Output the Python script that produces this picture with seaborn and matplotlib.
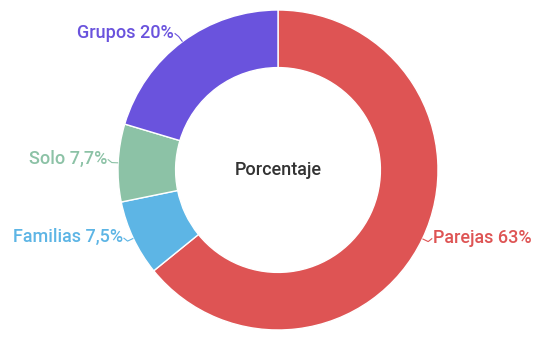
import numpy as np
import matplotlib
matplotlib.use("Agg")
import matplotlib.pyplot as plt
import seaborn as sns

labels = ["Parejas", "Familias", "Solo", "Grupos"]
values = [63, 7.5, 7.7, 20]
value_text = ["63%", "7,5%", "7,7%", "20%"]
colors = ["#DE5454", "#5DB5E5", "#8CC2A6", "#6A53DD"]
center_title = "Porcentaje"

sns.set_theme(style="white")
plt.rcParams["font.family"] = ["Roboto", "DejaVu Sans"]

W, H = 545, 343
R = 160.0
cx, cy = 278, 170
fig = plt.figure(figsize=(W / 100, H / 100), dpi=100)
ax = fig.add_axes([0, 0, 1, 1])

wedges, _ = ax.pie(values, colors=colors, startangle=90, counterclock=False,
                   radius=1.0, wedgeprops=dict(width=0.36, edgecolor="white", linewidth=1.0))
ax.set_xlim(-cx / R, (W - cx) / R)
ax.set_ylim(-(H - cy) / R, cy / R)
ax.set_aspect("equal")
ax.axis("off")

for w, lab, vt, col in zip(wedges, labels, value_text, colors):
    ang = np.deg2rad((w.theta1 + w.theta2) / 2)
    x0, y0 = np.cos(ang), np.sin(ang)
    x1, y1 = 1.04 * x0, 1.04 * y0
    side = 1 if x0 > 0 else -1
    x2 = x1 + side * 0.025
    y2 = y1 + 0.02
    ax.plot([x0, x1, x2], [y0, y1, y2], color=col, lw=0.8, solid_capstyle="butt")
    ax.text(x2 + side * 0.005, y2 + 0.005, f"{lab} {vt}", color=col, fontsize=13,
            fontweight="medium", ha="left" if side > 0 else "right", va="center")

ax.text(0, 0, center_title, ha="center", va="center", fontsize=13,
        fontweight="medium", color="#333333")

fig.savefig("out.png", dpi=100, facecolor="white")
